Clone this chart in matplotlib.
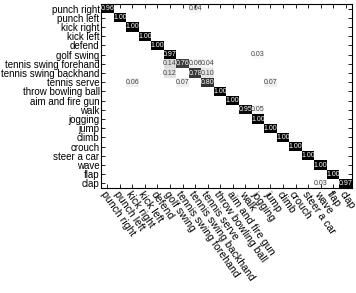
import numpy as np
import matplotlib.pyplot as plt
from matplotlib import font_manager

classes = ["punch right", "punch left", "kick right", "kick left", "defend",
           "golf swing", "tennis swing forehand", "tennis swing backhand",
           "tennis serve", "throw bowling ball", "aim and fire gun", "walk",
           "jogging", "jump", "climb", "crouch", "steer a car", "wave",
           "flap", "clap"]

# (row, col, value) of the non-zero cells
rows = [0, 0, 1, 2, 3, 4, 5, 5, 6, 6, 6, 6, 7, 7, 7, 8, 8, 8, 8,
        9, 10, 11, 11, 12, 13, 14, 15, 16, 17, 18, 19, 19]
cols = [0, 7, 1, 2, 3, 4, 5, 12, 5, 6, 7, 8, 5, 7, 8, 2, 6, 8, 13,
        9, 10, 11, 12, 12, 13, 14, 15, 16, 17, 18, 17, 19]
vals = [0.96, 0.04, 1.00, 1.00, 1.00, 1.00, 0.97, 0.03, 0.14, 0.76, 0.06, 0.04,
        0.12, 0.78, 0.10, 0.06, 0.07, 0.80, 0.07,
        1.00, 1.00, 0.95, 0.05, 1.00, 1.00, 1.00, 1.00, 1.00, 1.00, 1.00, 0.03, 0.97]

n = len(classes)
cm = np.zeros((n, n))
for r, c, v in zip(rows, cols, vals):
    cm[r, c] = v

# narrow face if there is one, else Liberation Sans
names = {f.name for f in font_manager.fontManager.ttflist}
if "Liberation Sans Narrow" in names:
    fprops = dict(family="Liberation Sans Narrow")
    lab_size, xlab_size, cell_size = 8, 8, 5.5
else:
    fprops = dict(family="Liberation Sans")
    lab_size, xlab_size, cell_size = 7.0, 7.6, 5.0

fig = plt.figure(figsize=(3.56, 2.93), dpi=100)
ax = fig.add_axes([101 / 356, 1 - 188 / 293, 251 / 356, 184 / 293])
ax.imshow(cm, cmap="gray_r", vmin=0, vmax=1, aspect="auto",
          interpolation="nearest")

for r, c, v in zip(rows, cols, vals):
    ax.text(c, r, "%.2f" % v, ha="center", va="center", fontsize=cell_size,
            color="white" if v > 0.5 else "#444444", **fprops)

ax.set_xticks(range(n))
ax.set_yticks(range(n))
ax.set_yticklabels(classes, fontsize=lab_size, **fprops)
ax.set_xticklabels(classes, fontsize=xlab_size, rotation=-55,
                   ha="left", va="top", rotation_mode="anchor", **fprops)
ax.tick_params(direction="in", top=True, right=True, length=3, pad=1,
               width=0.6)
for s in ax.spines.values():
    s.set_linewidth(0.8)

fig.savefig("out.png", dpi=100)
